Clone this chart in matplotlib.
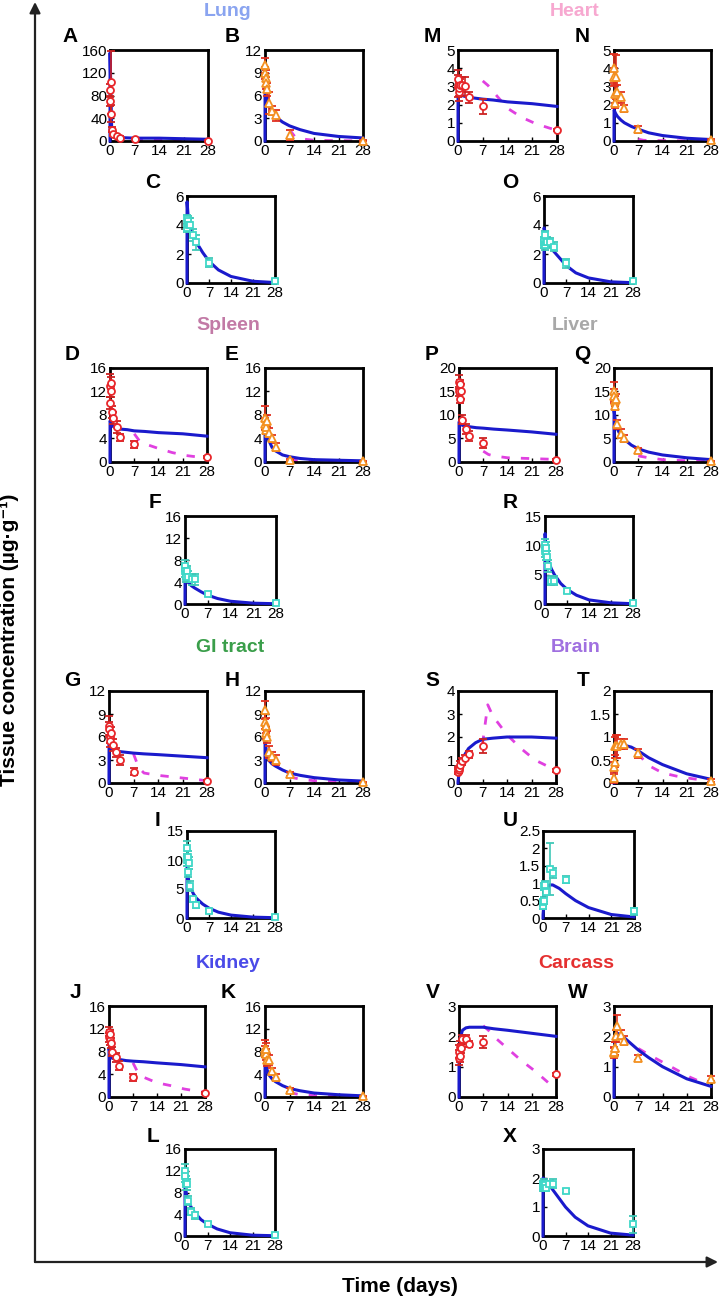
import numpy as np
import matplotlib.pyplot as plt

plt.rcParams['font.family'] = ['Liberation Sans', 'DejaVu Sans']

W, H = 719, 1298

# sampling times (days)
t_obs = [0.04, 0.1, 0.2, 0.3, 0.5, 1, 2, 3, 7, 28]
t_fit = [0, 0.02, 0.5, 1, 2, 3, 5, 7, 10, 14, 21, 28]
t_mag = [7, 8.5, 10, 14, 18, 22, 26, 28]
x_ticks = [0, 7, 14, 21, 28]

# ---- Lung ----
A_obs = [90, 70, 48, 103, 20, 12, 8, 6, 4, 0.5]
A_err = [10, 8, 15, 55, 5, 4, 3, 2, 1, 0.5]
A_fit = [0, 155, 15, 9, 7, 6, 5.5, 5, 5, 5, 4, 3]
A_mag = [2, 1.8, 1.6, 1.2, 0.9, 0.7, 0.5, 0.4]
B_obs = [10, 9, 8.3, 7.6, 6.8, 5.0, 4.0, 3.4, 0.8, 0.05]
B_err = [1, 0.8, 1, 0.8, 0.8, 1.5, 0.6, 0.7, 0.7, 0.05]
B_fit = [0, 7, 6, 4.8, 3.8, 3.2, 2.5, 2.0, 1.5, 1.0, 0.6, 0.4]
B_mag = [1.5, 0.6, 0.3, 0.1, 0.06, 0.04, 0.02, 0.02]
C_obs = [4.4, 3.8, 4.1, 4.3, 4.0, 4.0, 3.3, 2.8, 1.4, 0.15]
C_err = [0.3, 0.3, 0.3, 0.3, 0.5, 0.5, 0.4, 0.5, 0.3, 0.1]
C_fit = [0, 5.6, 4.2, 3.8, 3.2, 2.8, 2.1, 1.5, 0.9, 0.45, 0.12, 0.03]

# ---- Heart ----
M_obs = [3.4, 3.0, 2.7, 2.9, 3.1, 3.1, 3.0, 2.4, 1.9, 0.6]
M_err = [0.5, 0.6, 0.5, 0.4, 0.3, 0.4, 0.5, 0.3, 0.4, 0.05]
M_fit = [0, 2.8, 2.6, 2.5, 2.45, 2.4, 2.35, 2.3, 2.25, 2.15, 2.05, 1.9]
M_mag = [3.3, 3.05, 2.7, 1.8, 1.3, 0.95, 0.7, 0.6]
N_obs = [4.0, 3.5, 2.1, 2.6, 3.5, 2.7, 2.4, 1.8, 0.65, 0.05]
N_err = [0.8, 0.5, 0.3, 0.5, 1.2, 0.4, 0.3, 0.2, 0.2, 0.05]
N_fit = [0, 1.7, 1.5, 1.35, 1.15, 1.0, 0.8, 0.65, 0.45, 0.3, 0.15, 0.08]
N_mag = [0.1, 0.04, 0.03, 0.02, 0.01, 0.01, 0.01, 0.01]
O_obs = [2.7, 2.9, 3.3, 2.6, 2.8, 2.8, 2.8, 2.5, 1.35, 0.15]
O_err = [0.3, 0.3, 0.3, 0.3, 0.3, 0.4, 0.3, 0.3, 0.3, 0.05]
O_fit = [0, 3.8, 3.4, 3.1, 2.6, 2.2, 1.7, 1.2, 0.7, 0.35, 0.08, 0.02]

# ---- Spleen ----
D_obs = [13.0, 10.0, 12.0, 13.5, 8.5, 7.5, 6.0, 4.2, 3.0, 0.8]
D_err = [2, 1, 1, 1, 1, 1, 1, 0.6, 0.6, 0.2]
D_fit = [0, 7, 6.3, 6.0, 5.8, 5.6, 5.5, 5.3, 5.2, 5.0, 4.8, 4.4]
D_mag = [4.8, 3.6, 3.1, 2.3, 1.6, 1.1, 0.8, 0.8]
E_obs = [7.5, 6.5, 5.5, 6.0, 7.0, 5.0, 4.0, 2.5, 0.3, 0.1]
E_err = [2, 1, 0.8, 1, 1, 0.8, 0.6, 0.7, 0.2, 0.05]
E_fit = [0, 5, 4.5, 3.8, 2.5, 1.9, 1.2, 0.9, 0.6, 0.4, 0.3, 0.2]
E_mag = [0.5, 0.3, 0.15, 0.05, 0.03, 0.02, 0.01, 0.01]
F_obs = [7.0, 6.0, 5.5, 5.0, 6.0, 5.0, 4.5, 4.5, 1.8, 0.2]
F_err = [1, 1, 1, 1, 1, 1, 1, 1, 0.4, 0.1]
F_fit = [0, 4.5, 4.2, 3.9, 3.3, 2.9, 2.2, 1.6, 1.0, 0.5, 0.15, 0.05]

# ---- Liver ----
P_obs = [17, 15, 16.5, 13.5, 15, 9, 7, 5.5, 4, 0.5]
P_err = [1.5, 1, 1, 1, 1.5, 1, 1, 1, 1, 0.2]
P_fit = [0, 8.5, 8.0, 7.8, 7.6, 7.5, 7.3, 7.2, 7.0, 6.8, 6.4, 5.9]
P_mag = [2.3, 1.6, 1.3, 0.9, 0.8, 0.7, 0.6, 0.6]
Q_obs = [15, 14, 13, 12, 13.5, 8, 6, 5, 2.5, 0.2]
Q_err = [2, 1.5, 1, 1, 1, 1, 1, 0.8, 0.5, 0.1]
Q_fit = [0, 11, 8, 7, 5.5, 4.8, 3.6, 2.8, 2.1, 1.5, 0.9, 0.5]
Q_mag = [1.3, 1.1, 0.9, 0.5, 0.35, 0.25, 0.15, 0.1]
R_obs = [10, 9, 8.5, 9.5, 8, 6.5, 4, 4, 2.3, 0.2]
R_err = [1, 1, 1, 1, 1, 1, 0.8, 0.8, 0.4, 0.1]
R_fit = [0, 12, 8, 7.5, 6, 5, 3.5, 2.5, 1.5, 0.7, 0.2, 0.05]

# ---- GI tract ----
G_obs = [7.5, 7.0, 6.0, 5.5, 6.5, 5.0, 4.0, 3.0, 1.5, 0.3]
G_err = [1.2, 1, 0.8, 0.8, 0.8, 0.8, 0.6, 0.6, 0.4, 0.1]
G_fit = [0, 5, 4.6, 4.4, 4.2, 4.1, 4.0, 3.9, 3.8, 3.7, 3.5, 3.3]
G_mag = [3.8, 2.0, 1.3, 1.0, 0.8, 0.6, 0.4, 0.3]
H_obs = [9.5, 8.0, 7.5, 6.5, 6.0, 4.0, 3.5, 3.0, 1.2, 0.1]
H_err = [1.2, 1, 1, 0.8, 0.8, 0.8, 0.6, 0.6, 0.3, 0.05]
H_fit = [0, 5.5, 3.8, 3.0, 2.5, 2.2, 1.7, 1.3, 1.0, 0.7, 0.4, 0.25]
H_mag = [0.8, 0.65, 0.5, 0.3, 0.2, 0.12, 0.07, 0.05]
I_obs = [12, 10, 10.5, 8, 9.5, 5.5, 3.2, 2.3, 1.2, 0.1]
I_err = [1.3, 1, 1, 1, 1, 0.8, 0.5, 0.5, 0.3, 0.1]
I_fit = [0, 10, 6.5, 5.5, 4.2, 3.4, 2.4, 1.7, 1.0, 0.5, 0.15, 0.05]

# ---- Brain ----
S_obs = [0.5, 0.6, 0.55, 0.65, 0.8, 0.95, 1.1, 1.25, 1.6, 0.55]
S_err = [0.1, 0.1, 0.1, 0.1, 0.15, 0.15, 0.1, 0.15, 0.3, 0.05]
S_fit = [0, 0.1, 0.6, 0.9, 1.25, 1.5, 1.75, 1.9, 1.95, 2.0, 2.0, 1.95]
S_mag = [1.7, 3.4, 2.9, 2.1, 1.5, 1.0, 0.7, 0.55]
T_obs = [0.1, 0.35, 0.45, 0.8, 0.8, 0.8, 0.85, 0.85, 0.65, 0.05]
T_err = [0.1, 0.1, 0.1, 0.2, 0.25, 0.25, 0.1, 0.1, 0.1, 0.03]
T_fit = [0, 0.1, 0.6, 0.8, 0.85, 0.82, 0.78, 0.7, 0.55, 0.4, 0.2, 0.08]
T_mag = [0.65, 0.5, 0.38, 0.22, 0.15, 0.1, 0.06, 0.04]
U_obs = [0.35, 0.45, 0.5, 0.9, 0.95, 0.75, 1.4, 1.3, 1.1, 0.2]
U_err = [0.1, 0.1, 0.1, 0.1, 0.1, 0.1, 0.75, 0.15, 0.1, 0.1]
U_fit = [0, 0.1, 0.65, 0.85, 0.95, 0.95, 0.85, 0.7, 0.5, 0.3, 0.1, 0.03]

# ---- Kidney ----
J_obs = [11.5, 10.5, 10.0, 11.0, 9.5, 8.0, 7.0, 5.5, 3.5, 0.7]
J_err = [0.8, 0.8, 0.8, 0.8, 0.8, 0.8, 0.8, 0.8, 0.6, 0.2]
J_fit = [0, 8.5, 7.0, 6.8, 6.7, 6.6, 6.4, 6.3, 6.2, 6.0, 5.7, 5.3]
J_mag = [6.0, 4.2, 3.5, 2.5, 2.0, 1.4, 1.0, 0.8]
K_obs = [8.5, 8.0, 7.5, 8.5, 6.5, 6.5, 4.5, 3.5, 1.2, 0.1]
K_err = [1.5, 1, 1, 1, 1, 0.8, 0.6, 0.6, 0.4, 0.05]
K_fit = [0, 7.5, 5, 4, 3.2, 2.7, 2, 1.5, 1.1, 0.7, 0.4, 0.2]
K_mag = [0.8, 0.6, 0.4, 0.25, 0.15, 0.1, 0.06, 0.05]
L_obs = [12, 11, 10, 9.5, 9.5, 6.5, 4.5, 3.8, 2.2, 0.2]
L_err = [1.2, 1, 1, 1, 1, 0.8, 0.6, 0.6, 0.4, 0.1]
L_fit = [0, 9.5, 7.5, 6.5, 5.2, 4.3, 3, 2.2, 1.3, 0.6, 0.15, 0.05]

# ---- Carcass ----
V_obs = [1.5, 1.3, 1.35, 1.65, 1.6, 1.9, 1.9, 1.75, 1.8, 0.75]
V_err = [0.2, 0.25, 0.2, 0.2, 0.15, 0.15, 0.15, 0.1, 0.2, 0.05]
V_fit = [0, 1.5, 2.0, 2.2, 2.28, 2.3, 2.3, 2.3, 2.25, 2.2, 2.1, 2.0]
V_mag = [2.35, 2.2, 2.0, 1.6, 1.2, 0.85, 0.45, np.nan]
W_obs = [1.45, 1.5, 1.6, 1.6, 2.0, 2.35, 2.05, 1.85, 1.3, 0.6]
W_err = [0.15, 0.15, 0.2, 0.2, 0.2, 0.35, 0.15, 0.15, 0.08, 0.08]
W_fit = [0, 1.5, 2.0, 2.1, 2.05, 1.95, 1.75, 1.55, 1.3, 1.0, 0.6, 0.35]
W_mag = [1.6, 1.5, 1.4, 1.15, 0.9, 0.65, 0.45, np.nan]
X_obs = [1.7, 1.75, 1.8, 1.7, 1.75, 1.65, 1.8, 1.8, 1.55, 0.4]
X_err = [0.15, 0.15, 0.15, 0.15, 0.15, 0.1, 0.1, 0.15, 0.08, 0.3]
X_fit = [0, 2.0, 1.95, 1.9, 1.75, 1.6, 1.3, 1.0, 0.65, 0.35, 0.1, 0.03]

BLUE = '#1a1acc'
MAG = '#e040e0'
STYLE = {
    'circle': dict(marker='o', color='#e8262a', ecolor='#cc2222', ms=5),
    'tri': dict(marker='^', color='#f39020', ecolor='#e03020', ms=6),
    'square': dict(marker='s', color='#40d8c8', ecolor='#40c8b8', ms=5),
}

# letter, obs, err, kind, fit, mag, yticks, box px (x0, x1, y0, y1), letter px
panels = [
    ('A', A_obs, A_err, 'circle', A_fit, A_mag, [0, 40, 80, 120, 160], (110, 208, 50, 141), (70, 37)),
    ('B', B_obs, B_err, 'tri', B_fit, B_mag, [0, 3, 6, 9, 12], (265, 363, 50, 141), (232, 37)),
    ('C', C_obs, C_err, 'square', C_fit, None, [0, 2, 4, 6], (187, 275, 196, 283), (153, 183)),
    ('M', M_obs, M_err, 'circle', M_fit, M_mag, [0, 1, 2, 3, 4, 5], (458, 557, 50, 141), (432, 37)),
    ('N', N_obs, N_err, 'tri', N_fit, N_mag, [0, 1, 2, 3, 4, 5], (614, 711, 50, 141), (582, 37)),
    ('O', O_obs, O_err, 'square', O_fit, None, [0, 2, 4, 6], (544, 633, 196, 283), (510, 183)),
    ('D', D_obs, D_err, 'circle', D_fit, D_mag, [0, 4, 8, 12, 16], (110, 207, 368, 462), (72, 355)),
    ('E', E_obs, E_err, 'tri', E_fit, E_mag, [0, 4, 8, 12, 16], (265, 363, 368, 462), (232, 355)),
    ('F', F_obs, F_err, 'square', F_fit, None, [0, 4, 8, 12, 16], (185, 276, 516, 604), (155, 503)),
    ('P', P_obs, P_err, 'circle', P_fit, P_mag, [0, 5, 10, 15, 20], (459, 556, 368, 462), (432, 355)),
    ('Q', Q_obs, Q_err, 'tri', Q_fit, Q_mag, [0, 5, 10, 15, 20], (614, 711, 368, 462), (582, 355)),
    ('R', R_obs, R_err, 'square', R_fit, None, [0, 5, 10, 15], (545, 633, 516, 604), (510, 503)),
    ('G', G_obs, G_err, 'circle', G_fit, G_mag, [0, 3, 6, 9, 12], (109, 207, 691, 783), (72, 680)),
    ('H', H_obs, H_err, 'tri', H_fit, H_mag, [0, 3, 6, 9, 12], (265, 363, 691, 783), (232, 680)),
    ('I', I_obs, I_err, 'square', I_fit, None, [0, 5, 10, 15], (187, 275, 831, 918), (158, 820)),
    ('S', S_obs, S_err, 'circle', S_fit, S_mag, [0, 1, 2, 3, 4], (458, 556, 691, 783), (432, 680)),
    ('T', T_obs, T_err, 'tri', T_fit, T_mag, [0, 0.5, 1, 1.5, 2], (614, 711, 691, 783), (583, 680)),
    ('U', U_obs, U_err, 'square', U_fit, None, [0, 0.5, 1, 1.5, 2, 2.5], (543, 634, 831, 918), (510, 820)),
    ('J', J_obs, J_err, 'circle', J_fit, J_mag, [0, 4, 8, 12, 16], (109, 205, 1006, 1097), (75, 993)),
    ('K', K_obs, K_err, 'tri', K_fit, K_mag, [0, 4, 8, 12, 16], (265, 363, 1006, 1097), (228, 993)),
    ('L', L_obs, L_err, 'square', L_fit, None, [0, 4, 8, 12, 16], (185, 275, 1149, 1236), (153, 1137)),
    ('V', V_obs, V_err, 'circle', V_fit, V_mag, [0, 1, 2, 3], (459, 556, 1006, 1097), (433, 993)),
    ('W', W_obs, W_err, 'tri', W_fit, W_mag, [0, 1, 2, 3], (614, 711, 1006, 1097), (578, 993)),
    ('X', X_obs, X_err, 'square', X_fit, None, [0, 1, 2, 3], (543, 633, 1149, 1236), (510, 1137)),
]

organs = [
    ('Lung', '#8aa4f0', 228, 12), ('Heart', '#f7a8d0', 575, 12),
    ('Spleen', '#c27aa6', 228, 326), ('Liver', '#a8a8a8', 575, 326),
    ('GI tract', '#3a9e4a', 230, 647), ('Brain', '#a070e0', 576, 647),
    ('Kidney', '#4a4ae8', 228, 964), ('Carcass', '#e53030', 576, 964),
]

fig = plt.figure(figsize=(W / 100, H / 100), dpi=100)

# big axis arrows
bg = fig.add_axes([0, 0, 1, 1])
bg.set_xlim(0, W)
bg.set_ylim(H, 0)
bg.axis('off')
arrow = dict(arrowstyle='-|>', color='#222222', lw=1.6, mutation_scale=16, shrinkA=0, shrinkB=0)
bg.annotate('', xy=(35, 2), xytext=(35, 1262), arrowprops=arrow)
bg.annotate('', xy=(718, 1262), xytext=(35, 1262), arrowprops=arrow)
bg.text(400, 1287, 'Time (days)', fontsize=15, fontweight='bold', ha='center', va='center')
bg.text(10, 640, 'Tissue concentration (µg·g⁻¹)', fontsize=15, fontweight='bold',
        ha='center', va='center', rotation=90)

for name, col, x, y in organs:
    bg.text(x, y, name, color=col, fontsize=14, fontweight='bold', ha='center', va='center')

for letter, obs, err, kind, fit, mag, yticks, box, lpos in panels:
    x0, x1, y0, y1 = box
    ax = fig.add_axes([x0 / W, 1 - y1 / H, (x1 - x0) / W, (y1 - y0) / H])
    ax.plot(t_fit, fit, color=BLUE, lw=2.2, clip_on=False, zorder=3)
    if mag is not None:
        ax.plot(t_mag, mag, color=MAG, lw=2, dashes=(3, 4), zorder=2)
    st = STYLE[kind]
    eb = ax.errorbar(t_obs, obs, yerr=err, fmt=st['marker'], ms=st['ms'], mfc='white',
                     mec=st['color'], mew=1.3, ecolor=st['ecolor'], elinewidth=1.2,
                     capsize=3, capthick=1.2, zorder=4)
    for child in eb.get_children():
        child.set_clip_on(False)
    ax.set_xlim(0, 28)
    ax.set_ylim(0, yticks[-1])
    ax.set_xticks(x_ticks)
    ax.set_yticks(yticks)
    ax.set_yticklabels(['%g' % v for v in yticks])
    ax.tick_params(direction='in', length=3, width=1, labelsize=11, pad=2)
    for sp in ax.spines.values():
        sp.set_linewidth(2)
    fig.text(lpos[0] / W, 1 - lpos[1] / H, letter, fontsize=15, fontweight='bold',
             ha='center', va='center')

fig.savefig('out.png', dpi=100)
